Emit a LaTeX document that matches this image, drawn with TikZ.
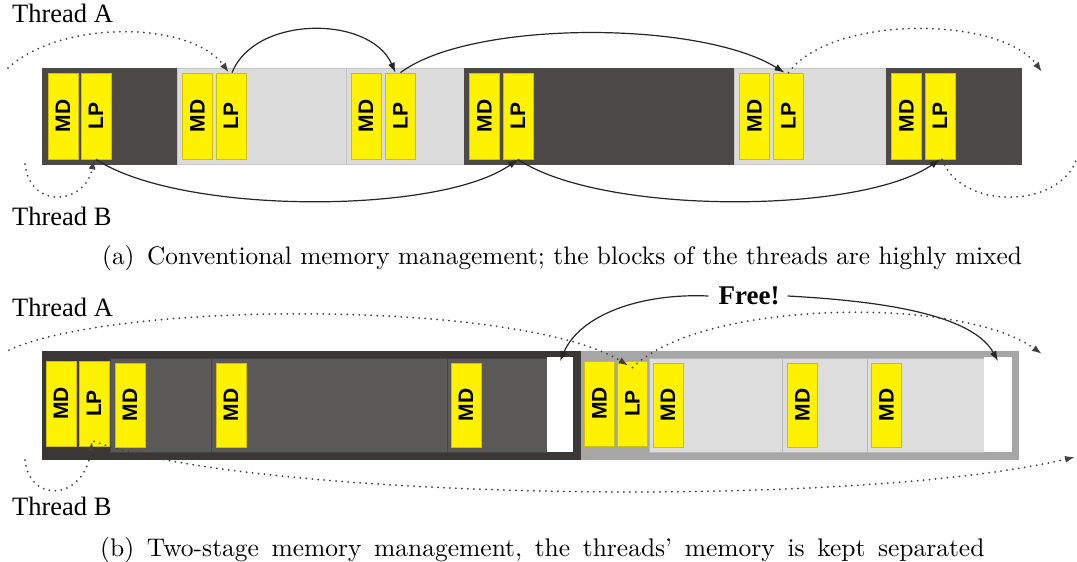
\documentclass[tikz,border=0pt]{standalone}
\usepackage{fontspec}
\newfontfamily\timesf{Liberation Serif}
\newfontfamily\arialf{Liberation Sans}
\newfontfamily\capfont{lmroman10-regular}[Extension=.otf]
\usetikzlibrary{arrows.meta}
\definecolor{darkseg}{HTML}{4D4948}
\definecolor{lightseg}{HTML}{DCDCDC}
\definecolor{lightedge}{HTML}{C4C4C4}
\definecolor{ylw}{HTML}{FFF200}
\definecolor{ylwedge}{HTML}{D0C000}
\definecolor{bdark}{HTML}{3B3736}
\definecolor{bmid}{HTML}{5A5958}
\definecolor{bmidline}{HTML}{474544}
\definecolor{bgrey}{HTML}{A6A6A6}
\definecolor{blight}{HTML}{DDDDDD}
\definecolor{blightline}{HTML}{B8B8B8}
\begin{document}
\begin{tikzpicture}[x=1pt,y=-1pt,
 seg/.style={rectangle, inner sep=0pt, line width=0.8pt},
 ybox/.style={rectangle, draw=ylwedge, fill=ylw, line width=0.7pt, minimum width=30pt, inner sep=0pt,
   font=\arialf\bfseries\fontsize{21}{21}\selectfont},
 thr/.style={anchor=base west, inner sep=0pt, font=\timesf\fontsize{26.5}{30}\selectfont},
 captext/.style={anchor=base west, inner sep=0pt},
 link/.style={line width=1.2pt, draw=black!85, -{Latex[length=10pt,width=7pt]}},
 dlink/.style={line width=2pt, dash pattern=on 0pt off 6pt, line cap=round, draw=black!75},
 dlinkarr/.style={dlink, -{Latex[length=10pt,width=7pt]}},
]
\fill[white] (0,0) rectangle (1077,562);
\useasboundingbox (0,0) rectangle (1077,562);

% ---------------- (a) ----------------
\node[seg, fill=darkseg, draw=darkseg, minimum width=135pt, minimum height=96pt] (as1) at (109.5,116) {};
\node[seg, fill=lightseg, draw=lightedge, minimum width=169pt, minimum height=96pt] (as2) at (261.5,116) {};
\node[seg, fill=lightseg, draw=lightedge, minimum width=118pt, minimum height=96pt] (as3) at (405,116) {};
\node[seg, fill=darkseg, draw=darkseg, minimum width=270pt, minimum height=96pt] (as4) at (599,116) {};
\node[seg, fill=lightseg, draw=lightedge, minimum width=152pt, minimum height=96pt] (as5) at (810,116) {};
\node[seg, fill=darkseg, draw=darkseg, minimum width=135pt, minimum height=96pt] (as6) at (953.5,116) {};

\node[ybox, minimum height=86pt] (a1md) at (63,116) {\rotatebox{90}{MD}};
\node[ybox, minimum height=86pt] (a1lp) at (96,116) {\rotatebox{90}{LP}};
\node[ybox, minimum height=86pt] (a2md) at (197.5,116) {\rotatebox{90}{MD}};
\node[ybox, minimum height=86pt] (a2lp) at (231,116) {\rotatebox{90}{LP}};
\node[ybox, minimum height=86pt] (a3md) at (366,116) {\rotatebox{90}{MD}};
\node[ybox, minimum height=86pt] (a3lp) at (400.5,116) {\rotatebox{90}{LP}};
\node[ybox, minimum height=86pt] (a4md) at (484.5,116) {\rotatebox{90}{MD}};
\node[ybox, minimum height=86pt] (a4lp) at (518,116) {\rotatebox{90}{LP}};
\node[ybox, minimum height=86pt] (a5md) at (754.5,116) {\rotatebox{90}{MD}};
\node[ybox, minimum height=86pt] (a5lp) at (788.5,116) {\rotatebox{90}{LP}};
\node[ybox, minimum height=86pt] (a6md) at (906.5,116) {\rotatebox{90}{MD}};
\node[ybox, minimum height=86pt] (a6lp) at (940,116) {\rotatebox{90}{LP}};

\node[thr] (athA) at (12,23) {Thread A};
\node[thr] (athB) at (12,225) {Thread B};

\coordinate (aAstart) at (8,68);
\coordinate (aAend) at (1042,72);
\coordinate (aBstart) at (25,164);
\coordinate (aBend) at (1077,158);

\draw[dlinkarr] (aAstart) .. controls (60,20) and (190,20) .. ([xshift=-2pt]a2lp.north);
\draw[link] ([xshift=1pt]a2lp.north) .. controls (255,15) and (370,15) .. ([xshift=-5pt]a3lp.north);
\draw[link] (a3lp.north) .. controls (470,20) and (700,20) .. ([xshift=-4pt]a5lp.north);
\draw[dlinkarr] (a5lp.north) .. controls (830,15) and (1000,15) .. (aAend);

\draw[dlinkarr] (aBstart) .. controls (30,210) and (85,205) .. ([xshift=-2pt]a1lp.south);
\draw[link] (a1lp.south) .. controls (180,215) and (440,215) .. (a4lp.south);
\draw[link] (a4lp.south) .. controls (600,215) and (860,215) .. (a6lp.south);
\draw[dlink] ([xshift=2pt]a6lp.south) .. controls (960,210) and (1060,210) .. (aBend);

\node[captext, font=\capfont\fontsize{25.3}{30}\selectfont] (capa) at (102,264) {(a)\hspace{0.5em}Conventional memory management; the blocks of the threads are highly mixed};

% ---------------- (b) ----------------
\node[seg, fill=bdark, draw=bdark, minimum width=539pt, minimum height=108pt] (bleft) at (311.5,405) {};
\node[seg, fill=bmid, draw=bmidline, minimum width=101pt, minimum height=94pt] (bm1) at (160.5,405) {};
\node[seg, fill=bmid, draw=bmidline, minimum width=236pt, minimum height=94pt] (bm2) at (329,405) {};
\node[seg, fill=bmid, draw=bmidline, minimum width=100pt, minimum height=94pt] (bm3) at (497,405) {};
\node[seg, fill=white, draw=white, minimum width=25pt, minimum height=94pt] (bw1) at (560,404.5) {};

\node[seg, fill=bgrey, draw=bgrey, minimum width=437pt, minimum height=108pt] (bright) at (799.5,405) {};
\node[seg, fill=blight, draw=blightline, minimum width=133pt, minimum height=94pt] (bl1) at (715.5,405) {};
\node[seg, fill=blight, draw=blightline, minimum width=85pt, minimum height=94pt] (bl2) at (824.5,405) {};
\node[seg, fill=blight, draw=blightline, minimum width=117pt, minimum height=94pt] (bl3) at (925.5,405) {};
\node[seg, fill=white, draw=white, minimum width=27pt, minimum height=94pt] (bw2) at (998,404.5) {};

\node[ybox, minimum height=85pt] (b1md) at (61,403.5) {\rotatebox{90}{MD}};
\node[ybox, minimum height=85pt] (b1lp) at (94,403.5) {\rotatebox{90}{LP}};
\node[ybox, minimum height=84pt] (b2md) at (130,405) {\rotatebox{90}{MD}};
\node[ybox, minimum height=84pt] (b3md) at (231,405) {\rotatebox{90}{MD}};
\node[ybox, minimum height=84pt] (b4md) at (466,405) {\rotatebox{90}{MD}};
\node[ybox, minimum height=85pt] (b5md) at (599.5,403.5) {\rotatebox{90}{MD}};
\node[ybox, minimum height=85pt] (b5lp) at (632.5,403.5) {\rotatebox{90}{LP}};
\node[ybox, minimum height=84pt] (b6md) at (668,405) {\rotatebox{90}{MD}};
\node[ybox, minimum height=84pt] (b7md) at (802.5,405) {\rotatebox{90}{MD}};
\node[ybox, minimum height=84pt] (b8md) at (886.5,405) {\rotatebox{90}{MD}};

\node[thr] (bthA) at (12,316) {Thread A};
\node[thr] (bthB) at (12,515) {Thread B};
\node[inner sep=0pt, font=\timesf\bfseries\fontsize{27}{30}\selectfont] (free) at (749,296) {Free!};

\coordinate (bAstart) at (9,350);
\coordinate (bAend) at (1042,354);
\coordinate (bBstart) at (25,460);
\coordinate (bBend) at (1075,457);

\draw[dlinkarr] (bAstart) .. controls (120,300) and (520,300) .. ([xshift=-4pt,yshift=-5pt]b5lp.north);
\draw[dlinkarr] ([yshift=-7pt]b5lp.north) .. controls (700,300) and (960,295) .. (bAend);
\draw[dlinkarr] (bBstart) .. controls (30,505) and (85,500) .. ([xshift=-2pt,yshift=5pt]b1lp.south);
\draw[dlinkarr] ([yshift=5pt]b1lp.south) .. controls (250,500) and (850,510) .. (bBend);

\draw[link] ([xshift=-10pt]free.west) .. controls (640,293) and (580,315) .. ([yshift=-4pt]bw1.north);
\draw[link] ([xshift=8pt]free.east) .. controls (860,300) and (970,310) .. ([yshift=-4pt]bw2.north);

\node[captext, font=\capfont\fontsize{25.5}{30}\selectfont] (capb) at (100,556) {\spaceskip=12.6pt\relax (b)\hspace{0.5em}Two-stage memory management, the threads’ memory is kept separated};
\end{tikzpicture}
\end{document}
